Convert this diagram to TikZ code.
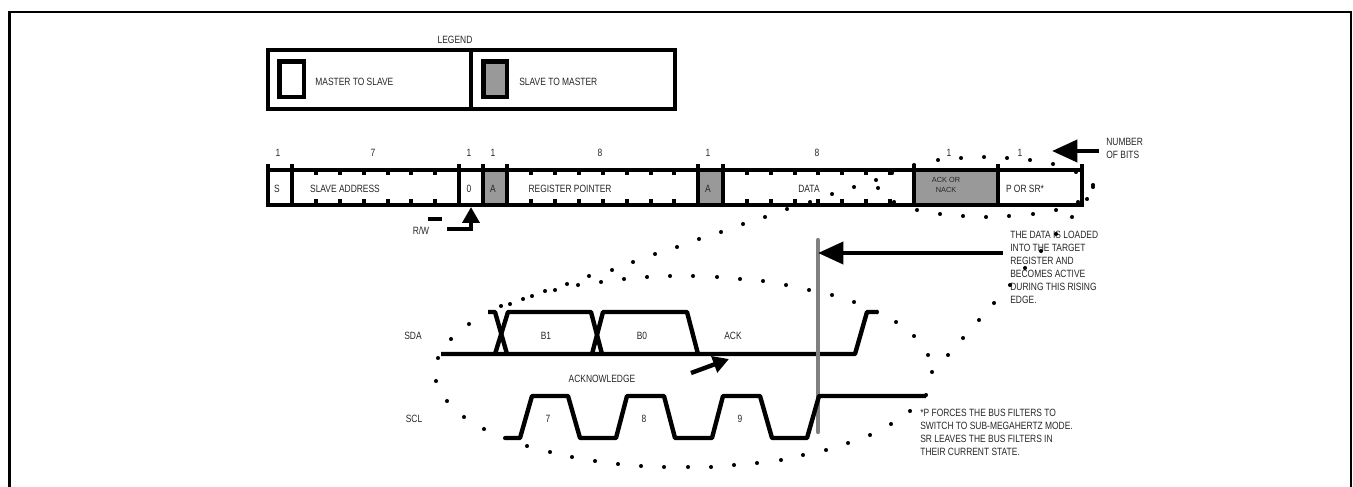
\documentclass[tikz,border=0pt]{standalone}
\usepackage{fontspec}
\setmainfont[FakeStretch=0.8]{Liberation Sans}
\newfontfamily\plainfont{Liberation Sans}
\usetikzlibrary{arrows.meta,positioning}

\begin{document}
\begin{tikzpicture}[
    x=0.02cm,
    y=-0.02cm,
    heavy/.style={line width=2.5pt, line join=miter},
    signal/.style={line width=2.5pt, line join=round},
    frameline/.style={line width=1.3pt},
    bigarrow/.style={line width=2.5pt, -{Triangle[length=14.5pt, width=12.5pt]}},
    smallarrow/.style={line width=2.5pt, -{Triangle[length=9pt, width=9.5pt]}},
    lbl/.style={inner sep=0pt, text=black!85, font=\fontsize{6}{7.4}\selectfont},
    note/.style={lbl, anchor=west, align=left},
    graybox/.style={fill=black!40},
    dot/.style={circle, fill=black, inner sep=0pt, minimum size=2.3pt}
]
\useasboundingbox (0,0) rectangle (1353,487);
\draw[frameline] (9.5,487) -- (9.5,12) -- (1351,12) -- (1351,487);

% legend
\node[lbl] (legendtitle) at (455,40) {LEGEND};
\draw[heavy] (268,50) rectangle (675,109);
\draw[heavy] (471,50) -- (471,109);
\draw[heavy] (279.5,61.5) rectangle (304,97);
\draw[heavy, graybox] (483.5,61.5) rectangle (507,97);
\node[note] (mastertext) at (315,82) {MASTER TO SLAVE};
\node[note] (slavetext) at (519,82) {SLAVE TO MASTER};

% frame
\draw[heavy, graybox] (483,170) rectangle (507,205);
\draw[heavy, graybox] (698,170) rectangle (723,205);
\draw[heavy, graybox] (914,170) rectangle (998,205);
\draw[heavy] (268,170) rectangle (1082,205);
\foreach \x in {268,292,459,483,507,698,723,914,998,1082}
    \draw[heavy] (\x,164) -- (\x,207);
\foreach \x in {316,340,364,388,411,435,531,555,579,603,627,651,674,747,771,795,818,842,866,890} {
    \draw[heavy] (\x,170) -- (\x,175);
    \draw[heavy] (\x,199) -- (\x,205);
}
\foreach \x/\n/\t in {278/bita/1,373/bitb/7,469/bitc/1,493/bitd/1,600/bite/8,708/bitf/1,817/bitg/8,949/bith/1,1020/biti/1}
    \node[lbl] (\n) at (\x,153) {\t};
\node[lbl] (startbit) at (277,189) {S};
\node[lbl] (addrtext) at (345,189) {SLAVE ADDRESS};
\node[lbl] (zerobit) at (469,189) {0};
\node[lbl] (acka) at (493,189) {A};
\node[lbl] (regtext) at (570,189) {REGISTER POINTER};
\node[lbl] (ackb) at (708,189) {A};
\node[lbl] (datatext) at (809,189) {DATA};
\node[lbl, align=center, font=\plainfont\fontsize{4.2}{5.7}\selectfont] (acknack) at (946,185) {ACK OR\\NACK};
\node[lbl] (stoptext) at (1025,189) {P OR SR*};

% r/w
\node[lbl] (rwtext) at (421,231) {R/W};
\draw[heavy] (428,219) -- (442,219);
\coordinate (rwstart) at (447,229);
\coordinate (rwtip) at (471,207);
\draw[smallarrow] (rwstart) -| (rwtip);

% number of bits
\node[note] (bitstext) at (1106,148.5) {NUMBER\\OF BITS};
\coordinate (bitsstart) at (1099,151);
\coordinate (bitstip) at (1052,151);
\draw[bigarrow] (bitsstart) -- (bitstip);

% timing
\node[lbl] (sdatext) at (413,336) {SDA};
\node[lbl] (scltext) at (414,419) {SCL};
\node[lbl] (bonetext) at (546,336) {B1};
\node[lbl] (bzerotext) at (642,336) {B0};
\node[lbl] (acktext) at (733,336) {ACK};
\node[lbl] (acknowledgetext) at (602,379) {ACKNOWLEDGE};
\node[lbl] (clkseven) at (548,419) {7};
\node[lbl] (clkeight) at (644,419) {8};
\node[lbl] (clknine) at (740,419) {9};
\draw[signal] (441,354) -- (855,354) -- (867,312) -- (878,312);
\draw[signal] (488,312) -- (495,312) -- (507,354);
\draw[signal] (495,354) -- (508,312) -- (591,312) -- (602,354);
\draw[signal] (592,354) -- (603,312) -- (687,312) -- (698,354);
\draw[line width=2.5pt, draw=black!50, line cap=round] (818,240) -- (818,432);
\draw[signal] (505,438) -- (520,438) -- (532,396) -- (568,396) -- (580,438) -- (616,438) -- (627,396) -- (664,396) -- (675,438) -- (712,438) -- (723,396) -- (760,396) -- (772,438) -- (807,438) -- (819,396) -- (926,396);
\coordinate (ackstart) at (691,373);
\coordinate (acktip) at (729,359);
\draw[smallarrow] (ackstart) -- (acktip);

% notes
\node[note] (loadtext) at (1010,267.5) {THE DATA IS LOADED\\INTO THE TARGET\\REGISTER AND\\BECOMES ACTIVE\\DURING THIS RISING\\EDGE.};
\coordinate (loadstart) at (1003,253);
\coordinate (loadtip) at (818,253);
\draw[bigarrow] (loadstart) -- (loadtip);
\node[note] (filtertext) at (920,432) {*P FORCES THE BUS FILTERS TO\\SWITCH TO SUB-MEGAHERTZ MODE.\\SR LEAVES THE BUS FILTERS IN\\THEIR CURRENT STATE.};

% dots
\foreach \x/\y in {938/160,961/158,984/157,1007/158,1030/160,1053/164,1076/172,1093/185,1093/187,1087/199,1078/202,1072/217,1056/210,1033/214,1009/216,986/217,963/216,940/214,917/210,894/202,878/188,876/180,892/173,914/165,854/187,832/194,810/202,787/209,765/217,743/224,721/232,699/239,677/247,655/254,633/262,612/270,589/276,567/284,545/291,523/299,501/306,510/304,532/296,555/290,578/285,601/282,624/279,647/277,670/276,693/276,717/277,740/279,763/281,786/285,809/290,832/295,854/302,877/312,896/322,914/336,928/355,932/372,926/395,910/411,891/424,870/435,848/443,826/450,803/455,781/460,757/463,734/465,711/467,688/467,664/467,641/466,618/464,595/461,572/457,550/452,527/446,505/438,484/429,464/417,447/401,436/381,438/358,451/339,469/324,490/312,948/355,963/338,979/320,994/303,1010/285,1025/268,1041/251,1056/234}
    \node[dot] at (\x,\y) {};
\end{tikzpicture}
\end{document}
